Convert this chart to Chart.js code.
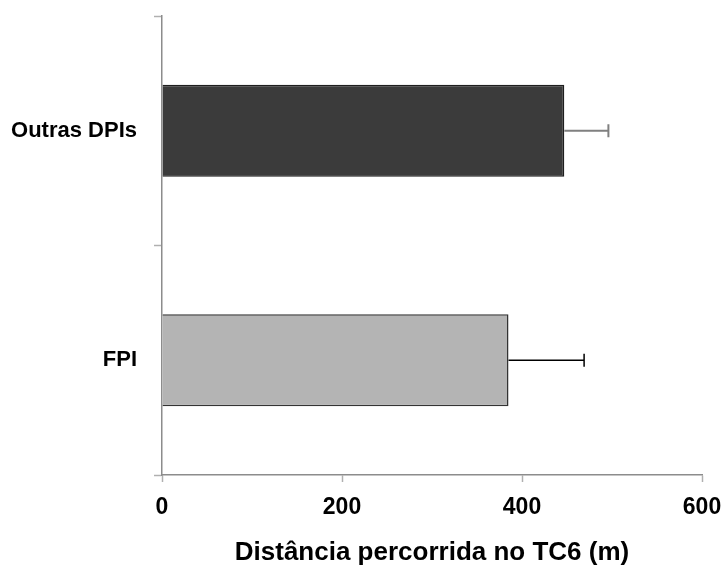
<!DOCTYPE html>
<html>
<head>
    <meta charset="utf-8">
    <title>Distância percorrida no TC6</title>
    <script src="https://cdn.jsdelivr.net/npm/chart.js"></script>
    <style>
        html, body { margin: 0; padding: 0; background: #fff; }
        #wrap { width: 721px; height: 568px; }
    </style>
</head>
<body>
    <div id="wrap"><canvas id="tc6Chart" width="721" height="568"></canvas></div>

    <script>
        const groups = ['Outras DPIs', 'FPI'];
        const distance = [447, 385];
        const errorPlus = [49, 84];
        const barColors = ['#3b3b3b', '#b4b4b4'];
        const errorColors = ['#808080', '#000000'];
        const xTicks = [0, 200, 400, 600];

        // one-sided error bars, drawn from the scales
        const errorBars = {
            id: 'errorBars',
            afterDatasetsDraw(chart) {
                const ctx = chart.ctx;
                const x = chart.scales.x;
                const bars = chart.getDatasetMeta(0).data;
                bars.forEach((bar, i) => {
                    const x0 = x.getPixelForValue(distance[i]);
                    const x1 = x.getPixelForValue(distance[i] + errorPlus[i]);
                    ctx.save();
                    ctx.strokeStyle = errorColors[i];
                    ctx.lineWidth = i === 0 ? 2 : 1.5;
                    ctx.beginPath();
                    ctx.moveTo(x0, bar.y);
                    ctx.lineTo(x1, bar.y);
                    ctx.moveTo(x1, bar.y - 6.5);
                    ctx.lineTo(x1, bar.y + 6.5);
                    ctx.stroke();
                    ctx.restore();
                });
            }
        };

        new Chart(document.getElementById('tc6Chart'), {
            type: 'bar',
            data: {
                labels: groups,
                datasets: [{
                    data: distance,
                    backgroundColor: barColors,
                    borderColor: ['#1e1e1e', '#333333'],
                    borderWidth: 1.5,
                    categoryPercentage: 1,
                    barPercentage: 0.4
                }]
            },
            options: {
                indexAxis: 'y',
                responsive: false,
                animation: false,
                layout: { padding: { top: 16, right: 19, left: 0, bottom: 0 } },
                plugins: {
                    legend: { display: false },
                    tooltip: { enabled: false }
                },
                scales: {
                    x: {
                        min: 0,
                        max: 600,
                        afterBuildTicks: (scale) => { scale.ticks = xTicks.map(v => ({ value: v })); },
                        afterFit: (scale) => {
                            scale.height = 93;
                            scale.paddingLeft = 0;
                            scale.paddingRight = 0;
                        },
                        border: { color: '#8c8c8c', width: 1.5 },
                        grid: { drawOnChartArea: false, tickLength: 7, color: '#b0b0b0', tickWidth: 1.5 },
                        ticks: {
                            color: '#000',
                            padding: 12,
                            font: { family: 'Liberation Sans', size: 23, weight: 'bold' }
                        },
                        title: {
                            display: true,
                            text: 'Distância percorrida no TC6 (m)',
                            color: '#000',
                            padding: { top: 9, bottom: 0 },
                            font: { family: 'Liberation Sans', size: 26, weight: 'bold' }
                        }
                    },
                    y: {
                        offset: true,
                        afterFit: (scale) => {
                            scale.width = 162;
                            scale.paddingTop = 0;
                            scale.paddingBottom = 0;
                        },
                        border: { color: '#8c8c8c', width: 1.5 },
                        grid: { offset: true, drawOnChartArea: false, tickLength: 8, color: '#b0b0b0', tickWidth: 1.5 },
                        ticks: {
                            color: '#000',
                            padding: 17,
                            font: { family: 'Liberation Sans', size: 22, weight: 'bold' }
                        }
                    }
                }
            },
            plugins: [errorBars]
        });
    </script>
</body>
</html>
